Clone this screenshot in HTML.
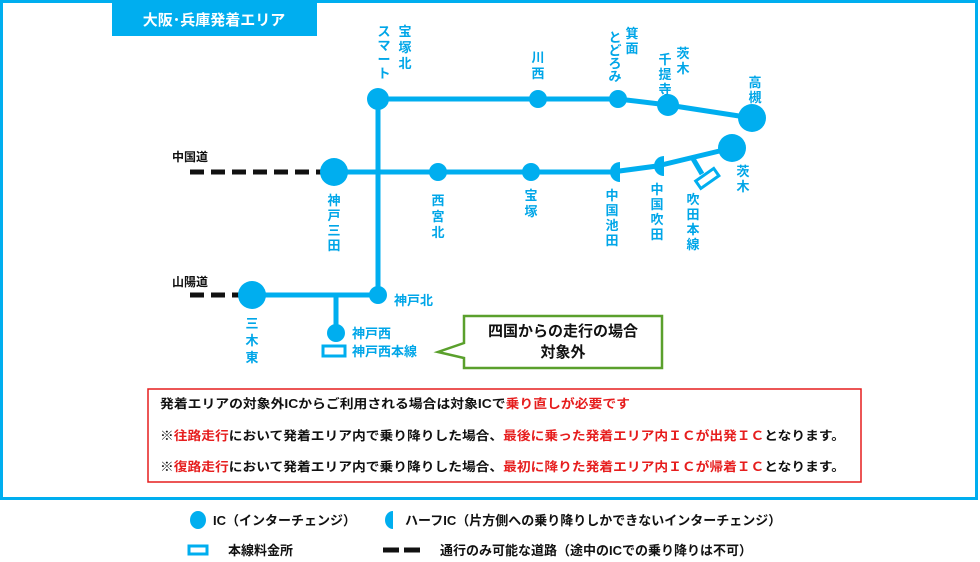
<!DOCTYPE html>
<html><head><meta charset="utf-8"><style>
body{margin:0;background:#fff}
svg{display:block;font-family:"Liberation Sans","Noto Sans CJK JP",sans-serif}
.b{fill:#00a6e8;font-weight:bold;font-size:13px}
.k{fill:#111;font-weight:bold;font-size:12px}
</style></head><body>
<svg width="980" height="562" viewBox="0 0 980 562" xmlns="http://www.w3.org/2000/svg">
<rect x="1.5" y="1.5" width="975" height="497" fill="none" stroke="#00aeef" stroke-width="3"/>
<rect x="112" y="0" width="205" height="36" fill="#00aeef"/>
<text x="214" y="25" text-anchor="middle" fill="#fff" font-weight="bold" font-size="15">大阪･兵庫発着エリア</text>

<g stroke="#111" stroke-width="5" stroke-dasharray="14,7">
<line x1="190" y1="172" x2="322" y2="172"/>
<line x1="190" y1="295" x2="240" y2="295"/>
</g>
<text class="k" x="172" y="161">中国道</text>
<text class="k" x="172" y="286">山陽道</text>

<g stroke="#00aeef" stroke-width="5" fill="none">
<polyline points="378,99 618,99 668,105 752,118"/>
<polyline points="334,172 612,172 657,166 732,148"/>
<line x1="378" y1="99" x2="378" y2="295"/>
<line x1="252" y1="295" x2="378" y2="295"/>
<line x1="336" y1="295" x2="336" y2="333"/>
<line x1="692" y1="157" x2="702" y2="174"/>
</g>
<g fill="#00aeef">
<circle cx="378" cy="99" r="11"/>
<circle cx="538" cy="99" r="9"/>
<circle cx="618" cy="99" r="9"/>
<circle cx="668" cy="105" r="11"/>
<circle cx="752" cy="118" r="14"/>
<circle cx="732" cy="148" r="14"/>
<circle cx="531" cy="172" r="9"/>
<circle cx="438" cy="172" r="9"/>
<circle cx="334" cy="172" r="14"/>
<circle cx="378" cy="295" r="9"/>
<circle cx="252" cy="295" r="14"/>
<circle cx="336" cy="333" r="9"/>
<path d="M620,163 A10,10 0 0 0 620,183 Z" transform="translate(0,-1)"/>
<path d="M664,156 A10,10 0 0 0 664,176 Z"/>
</g>
<rect x="696" y="174" width="22" height="9" fill="#fff" stroke="#00aeef" stroke-width="3" transform="rotate(-35 707 178)"/>
<rect x="323" y="346" width="22" height="10" fill="#fff" stroke="#00aeef" stroke-width="3"/>

<g class="b" text-anchor="middle">
<text x="405" y="36">宝<tspan x="405" dy="16">塚</tspan><tspan x="405" dy="16">北</tspan></text>
<text x="384" y="36">ス<tspan x="384" dy="14">マ</tspan><tspan x="384" dy="14">ー</tspan><tspan x="384" dy="14">ト</tspan></text>
<text x="538" y="62">川<tspan x="538" dy="16">西</tspan></text>
<text x="632" y="38">箕<tspan x="632" dy="15">面</tspan></text>
<text x="615" y="42">と<tspan x="615" dy="13">ど</tspan><tspan x="615" dy="13">ろ</tspan><tspan x="615" dy="13">み</tspan></text>
<text x="683" y="58">茨<tspan x="683" dy="15">木</tspan></text>
<text x="665" y="64">千<tspan x="665" dy="15">提</tspan><tspan x="665" dy="15">寺</tspan></text>
<text x="755" y="87">高<tspan x="755" dy="15">槻</tspan></text>
<text x="743" y="176">茨<tspan x="743" dy="15">木</tspan></text>
<text x="657" y="194">中<tspan x="657" dy="15">国</tspan><tspan x="657" dy="15">吹</tspan><tspan x="657" dy="15">田</tspan></text>
<text x="612" y="200">中<tspan x="612" dy="15">国</tspan><tspan x="612" dy="15">池</tspan><tspan x="612" dy="15">田</tspan></text>
<text x="693" y="204">吹<tspan x="693" dy="15">田</tspan><tspan x="693" dy="15">本</tspan><tspan x="693" dy="15">線</tspan></text>
<text x="531" y="200">宝<tspan x="531" dy="16">塚</tspan></text>
<text x="438" y="205">西<tspan x="438" dy="16">宮</tspan><tspan x="438" dy="16">北</tspan></text>
<text x="334" y="205">神<tspan x="334" dy="15">戸</tspan><tspan x="334" dy="15">三</tspan><tspan x="334" dy="15">田</tspan></text>
<text x="252" y="328">三<tspan x="252" dy="17">木</tspan><tspan x="252" dy="17">東</tspan></text>
</g>
<text class="b" x="394" y="305">神戸北</text>
<text class="b" x="352" y="338">神戸西</text>
<text class="b" x="352" y="356">神戸西本線</text>

<path d="M464,316 H662 V368 H464 V358 L438,352 L464,343 Z" fill="#fff" stroke="#5aa02c" stroke-width="2.5"/>
<text x="563" y="336" text-anchor="middle" font-size="15" font-weight="bold" fill="#111">四国からの走行の場合</text>
<text x="563" y="357" text-anchor="middle" font-size="15" font-weight="bold" fill="#111">対象外</text>

<rect x="148" y="389" width="713" height="93" fill="#fff" stroke="#e61e1e" stroke-width="1.5"/>
<g font-size="12.5" font-weight="bold" fill="#111">
<text x="160" y="408" textLength="470" lengthAdjust="spacingAndGlyphs">発着エリアの対象外ICからご利用される場合は対象ICで<tspan fill="#e61e1e">乗り直しが必要です</tspan></text>
<text x="160" y="440" textLength="685" lengthAdjust="spacingAndGlyphs">※<tspan fill="#e61e1e">往路走行</tspan>において発着エリア内で乗り降りした場合、<tspan fill="#e61e1e">最後に乗った発着エリア内ＩＣが出発ＩＣ</tspan>となります。</text>
<text x="160" y="471" textLength="685" lengthAdjust="spacingAndGlyphs">※<tspan fill="#e61e1e">復路走行</tspan>において発着エリア内で乗り降りした場合、<tspan fill="#e61e1e">最初に降りた発着エリア内ＩＣが帰着ＩＣ</tspan>となります。</text>
</g>

<ellipse cx="198" cy="520" rx="8" ry="9" fill="#00aeef"/>
<path d="M393,511 A8,9 0 0 0 393,529 Z" fill="#00aeef"/>
<rect x="189" y="546" width="18" height="8" fill="#fff" stroke="#00aeef" stroke-width="3"/>
<g stroke="#111" stroke-width="5"><line x1="383" y1="550" x2="399" y2="550"/><line x1="404" y1="550" x2="420" y2="550"/></g>
<g font-size="13" font-weight="bold" fill="#111">
<text x="213" y="525">IC（インターチェンジ）</text>
<text x="405" y="525">ハーフIC（片方側への乗り降りしかできないインターチェンジ）</text>
<text x="228" y="555">本線料金所</text>
<text x="440" y="555">通行のみ可能な道路（途中のICでの乗り降りは不可）</text>
</g>
</svg>
</body></html>
